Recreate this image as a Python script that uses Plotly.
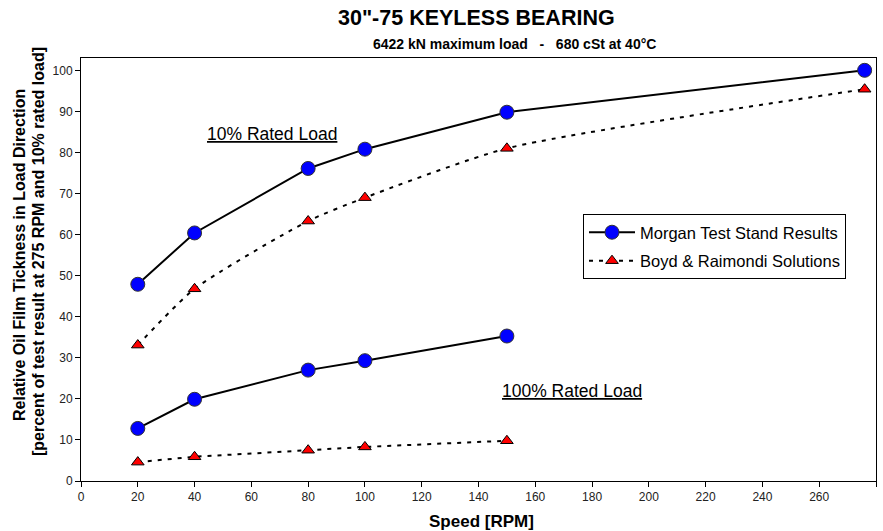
import plotly.graph_objects as go

speed_10 = [20, 40, 80, 100, 150, 276]
morgan_10 = [47.9, 60.4, 76.1, 80.8, 89.8, 100.0]
boyd_10 = [33.1, 46.8, 63.3, 69.0, 81.0, 95.4]

speed_100 = [20, 40, 80, 100, 150]
morgan_100 = [12.8, 19.9, 27.0, 29.3, 35.3]
boyd_100 = [4.6, 5.9, 7.5, 8.3, 9.8]

x_ticks = list(range(0, 281, 20))
y_ticks = list(range(0, 101, 10))

FONT = "Liberation Sans, Arial, sans-serif"

circle = dict(symbol="circle", size=14, color="#0000ff", line=dict(color="#333333", width=1))
tri = dict(symbol="triangle-up", size=11, color="#ff0000", line=dict(color="#000000", width=1))
solid = dict(color="black", width=2)
dashed = dict(color="black", width=2, dash="4px,6px")

fig = go.Figure()
fig.add_trace(go.Scatter(x=speed_10, y=morgan_10, mode="lines+markers", name="Morgan Test Stand Results",
                         legendgroup="m", line=solid, marker=circle))
fig.add_trace(go.Scatter(x=speed_10, y=boyd_10, mode="lines+markers", name="Boyd & Raimondi Solutions",
                         legendgroup="b", line=dict(dashed, shape="spline", smoothing=0.6), marker=tri))
fig.add_trace(go.Scatter(x=speed_100, y=morgan_100, mode="lines+markers", name="Morgan Test Stand Results",
                         legendgroup="m", showlegend=False, line=solid, marker=circle))
fig.add_trace(go.Scatter(x=speed_100, y=boyd_100, mode="lines+markers", name="Boyd & Raimondi Solutions",
                         legendgroup="b", showlegend=False, line=dashed, marker=tri))

L, R, T, B = 81, 876, 58, 481

def ann(text, px, py, size, angle=0):
    return dict(text=text, x=(px - L) / (R - L), y=(B - py) / (B - T), xref="paper", yref="paper",
                xanchor="center", yanchor="middle", showarrow=False, textangle=angle,
                font=dict(size=size, family=FONT, color="black"))

fig.update_layout(
    width=883, height=531,
    margin=dict(l=L, r=883 - R, t=T, b=531 - B),
    paper_bgcolor="white", plot_bgcolor="white",
    font=dict(family=FONT, color="black", size=12),
    showlegend=True,
    legend=dict(x=(583 - L) / (R - L), y=(B - 214) / (B - T), xanchor="left", yanchor="top",
                bgcolor="white", bordercolor="black", borderwidth=1,
                font=dict(size=16.5, family=FONT), itemwidth=46, tracegroupgap=4),
    annotations=[
        ann("<b>30\"-75 KEYLESS BEARING</b>", 476, 18, 21.5),
        ann("<b>6422 kN maximum load   -   680 cSt at 40°C</b>", 514, 44, 14),
        ann("<b>Relative Oil Film Tickness in Load Direction</b>", 19, 255, 16, -90),
        ann("<b>[percent of test result at 275 RPM and 10% rated load]</b>", 38, 252, 16, -90),
        ann("<u>10% Rated Load</u>", 272, 134, 17.5),
        ann("<u>100% Rated Load</u>", 572, 391, 17.5),
        ann("<b>Speed [RPM]</b>", 481, 521, 17),
    ],
)

fig.update_xaxes(range=[0, 280], tickvals=x_ticks, ticks="outside", ticklen=5, tickcolor="black",
                 showline=True, linecolor="black", linewidth=1, mirror=True, showgrid=False,
                 zeroline=False, tickfont=dict(size=12, color="#222222"))
fig.update_yaxes(range=[0, 103], tickvals=y_ticks, ticks="outside", ticklen=5, tickcolor="black",
                 showline=True, linecolor="black", linewidth=1, mirror=True, showgrid=False,
                 zeroline=False, tickfont=dict(size=12, color="#222222"))

fig.write_html("out.html", config={"displayModeBar": False},
               post_script="document.body.style.margin='0';document.body.style.padding='0';")
